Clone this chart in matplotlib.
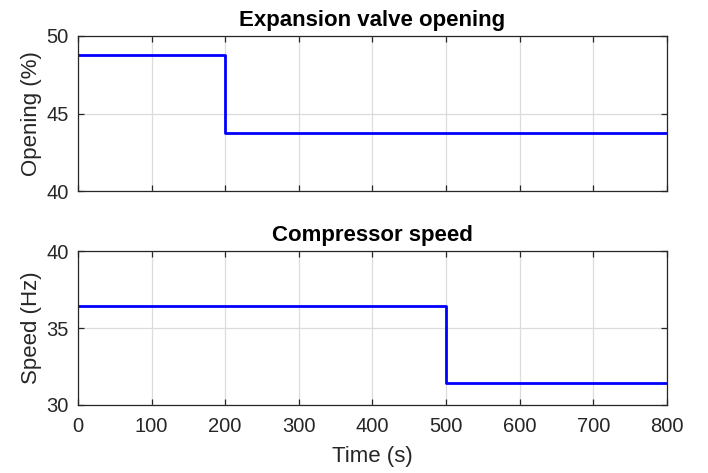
import matplotlib
matplotlib.use("Agg")
import matplotlib.pyplot as plt

plt.rcParams['font.family'] = ['Liberation Sans', 'DejaVu Sans']

# step inputs
valve_time = [0, 200, 200, 800]
valve_open = [48.75, 48.75, 43.75, 43.75]
comp_time = [0, 500, 500, 800]
comp_speed = [36.45, 36.45, 31.45, 31.45]

x_ticks = [0, 100, 200, 300, 400, 500, 600, 700, 800]
AX_COLOR = '#262626'
TICK_SIZE = 14.5
LABEL_SIZE = 16


def style_axes(ax):
    ax.grid(True, color='#dcdcdc', linewidth=0.9)
    ax.set_axisbelow(True)
    ax.tick_params(direction='in', top=True, right=True, length=4.5,
                   width=0.9, colors=AX_COLOR, labelsize=TICK_SIZE)
    ax.tick_params(axis='x', pad=9)
    ax.tick_params(axis='y', pad=6.5)
    for s in ax.spines.values():
        s.set_color(AX_COLOR)
        s.set_linewidth(0.9)
    ax.yaxis.set_label_coords(-0.061, 0.5)


fig = plt.figure(figsize=(7.08, 4.73), dpi=100)
ax1 = fig.add_axes([0.110, 0.596, 0.832, 0.328])
ax2 = fig.add_axes([0.110, 0.144, 0.832, 0.325])

ax1.plot(valve_time, valve_open, color='#0000ff', linewidth=2)
ax1.set_xlim(0, 800)
ax1.set_ylim(40, 50)
ax1.set_yticks([40, 45, 50])
ax1.set_xticks(x_ticks)
ax1.set_xticklabels([])
ax1.set_ylabel('Opening (%)', fontsize=LABEL_SIZE, color=AX_COLOR)
ax1.set_title('Expansion valve opening', fontsize=LABEL_SIZE, fontweight='bold', pad=7)
style_axes(ax1)

ax2.plot(comp_time, comp_speed, color='#0000ff', linewidth=2)
ax2.set_xlim(0, 800)
ax2.set_ylim(30, 40)
ax2.set_yticks([30, 35, 40])
ax2.set_xticks(x_ticks)
ax2.set_xlabel('Time (s)', fontsize=LABEL_SIZE, color=AX_COLOR)
ax2.xaxis.set_label_coords(0.5, -0.266)
ax2.set_ylabel('Speed (Hz)', fontsize=LABEL_SIZE, color=AX_COLOR)
ax2.set_title('Compressor speed', fontsize=LABEL_SIZE, fontweight='bold', pad=7)
style_axes(ax2)

fig.savefig('out.png', dpi=100)
plt.close(fig)
